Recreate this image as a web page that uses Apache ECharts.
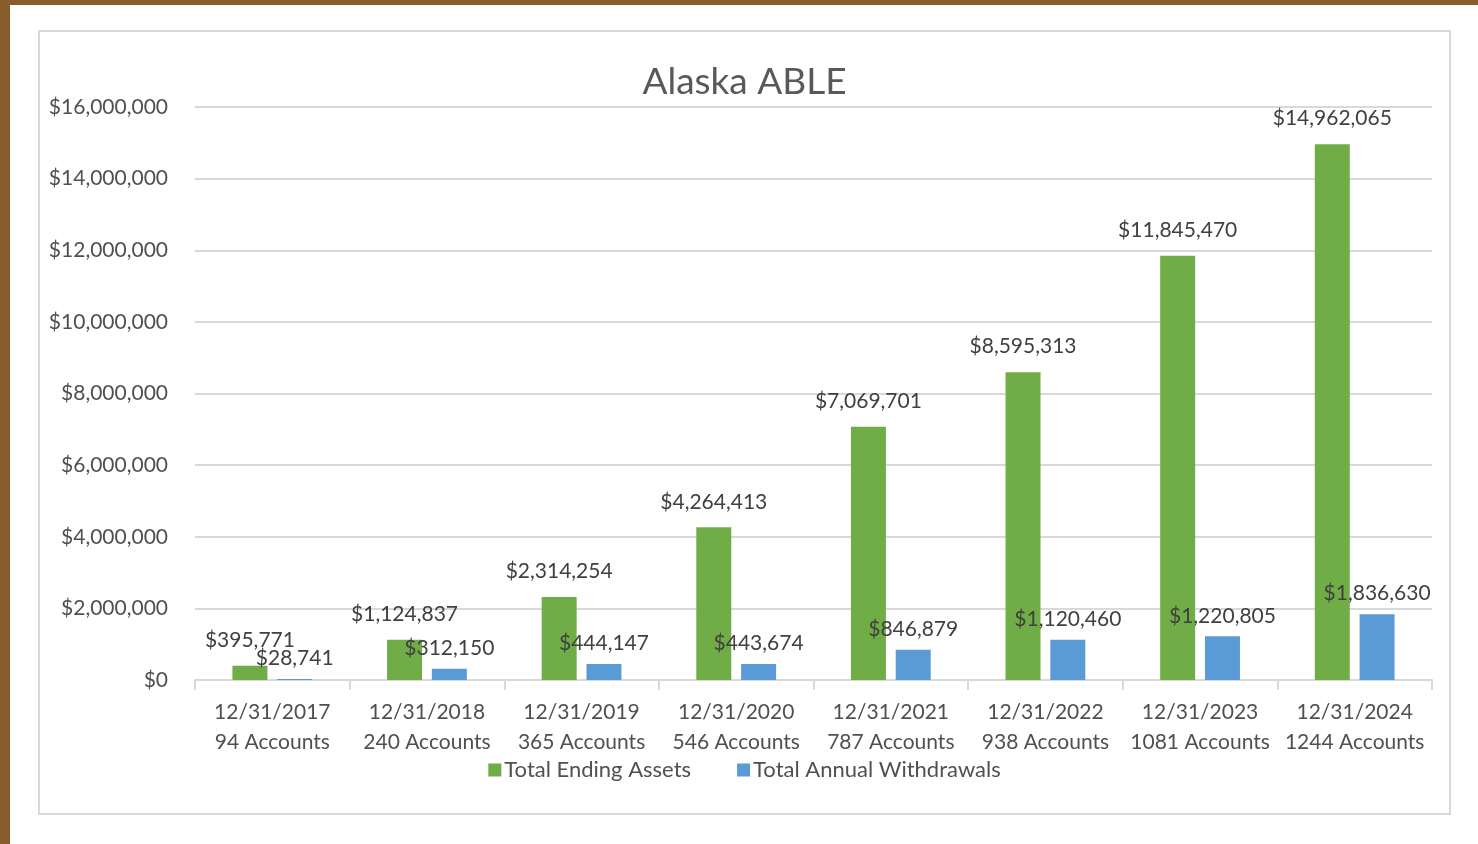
<!DOCTYPE html>
<html>
<head>
<meta charset="utf-8">
<script src="https://cdn.jsdelivr.net/npm/echarts@6/dist/echarts.min.js"></script>
<style>
body{
    margin: 0;
    width: 1478px;
    height: 844px;
    background: #8a5d2c;
    overflow: hidden;
}
#page{
    position: absolute;
    left: 10px;
    top: 5px;
    width: 1468px;
    height: 839px;
    background: #ffffff;
}
#chart{
    position: absolute;
    left: 38px;
    top: 30px;
    width: 1413px;
    height: 785px;
    box-sizing: border-box;
    border: 2px solid #d9d9d9;
    background: #ffffff;
}
</style>
</head>
<body>
<div id="page"></div>
<div id="chart"></div>
<script>
const dates = ['12/31/2017','12/31/2018','12/31/2019','12/31/2020','12/31/2021','12/31/2022','12/31/2023','12/31/2024']
const accounts = [94, 240, 365, 546, 787, 938, 1081, 1244]
const endingAssets = [395771, 1124837, 2314254, 4264413, 7069701, 8595313, 11845470, 14962065]
const withdrawals = [28741, 312150, 444147, 443674, 846879, 1120460, 1220805, 1836630]

let categories = dates.map((d, i) => d + '\n' + accounts[i] + ' Accounts')

function money(v){
    return '$' + Number(v).toLocaleString('en-US')
}

let font = 'Lato, "Open Sans", sans-serif'
let textColor = '#505050'
let myChart = echarts.init(document.getElementById('chart'))
let option = {
    animation: false,
    textStyle: { fontFamily: font },
    title: {
        text: 'Alaska ABLE',
        left: 'center',
        top: 27,
        textStyle: {
            fontFamily: font,
            fontSize: 37,
            fontWeight: 'normal',
            color: '#595959'
        }
    },
    legend: {
        bottom: 27,
        left: 'center',
        itemWidth: 13,
        itemHeight: 13,
        itemGap: 46,
        icon: 'rect',
        textStyle: { fontFamily: font, fontSize: 22, color: textColor, padding: [0, 0, 0, -2] }
    },
    grid: {
        left: 155,
        top: 75,
        width: 1237,
        height: 573
    },
    xAxis: {
        type: 'category',
        data: categories,
        axisLine: { lineStyle: { color: '#d9d9d9', width: 2 } },
        axisTick: { show: true, length: 10, lineStyle: { color: '#d9d9d9', width: 2 } },
        axisLabel: {
            interval: 0,
            fontFamily: font,
            fontSize: 21,
            color: textColor,
            lineHeight: 30,
            margin: 17
        }
    },
    yAxis: {
        type: 'value',
        min: 0,
        max: 16000000,
        interval: 2000000,
        axisLine: { show: false },
        axisTick: { show: false },
        splitLine: { lineStyle: { color: '#d9d9d9', width: 2 } },
        axisLabel: {
            fontFamily: font,
            fontSize: 21,
            color: textColor,
            margin: 27,
            formatter: money
        }
    },
    series: [
        {
            name: 'Total Ending Assets',
            type: 'bar',
            data: endingAssets,
            barWidth: 35,
            barGap: '28%',
            itemStyle: { color: '#70ad47' },
            label: {
                show: true,
                position: 'top',
                distance: 15,
                fontFamily: font,
                fontSize: 21,
                color: '#404040',
                formatter: p => money(p.value)
            }
        },
        {
            name: 'Total Annual Withdrawals',
            type: 'bar',
            data: withdrawals,
            barWidth: 35,
            itemStyle: { color: '#5b9bd5' },
            label: {
                show: true,
                position: 'top',
                distance: 10,
                fontFamily: font,
                fontSize: 21,
                color: '#404040',
                formatter: p => money(p.value)
            }
        }
    ]
}
myChart.setOption(option)
</script>
</body>
</html>
